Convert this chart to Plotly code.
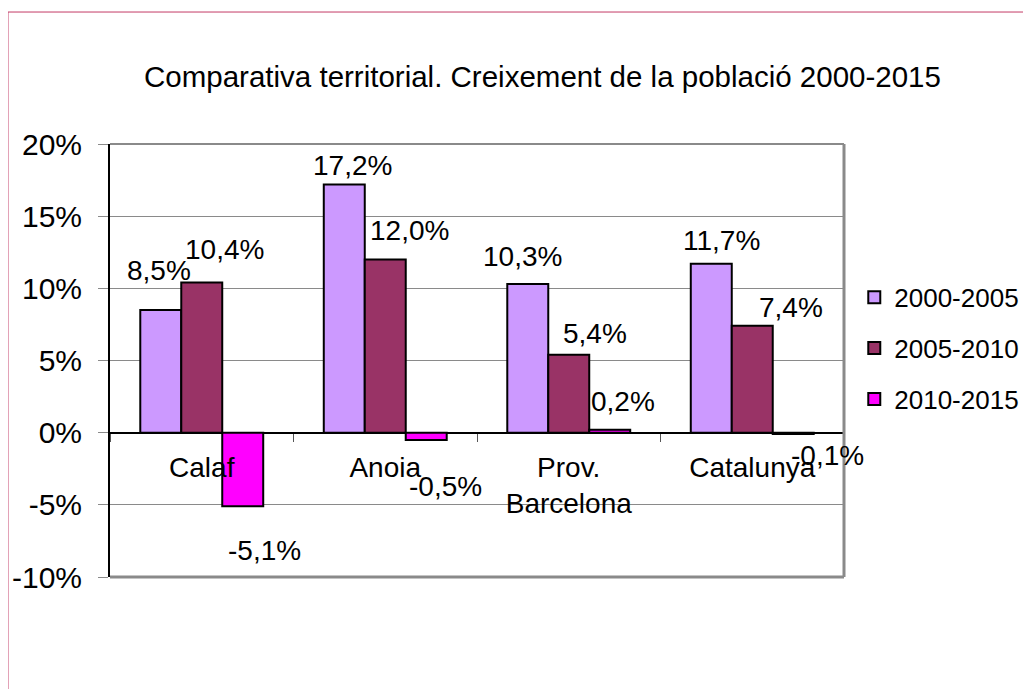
import plotly.graph_objects as go

# ---- data ----
categories = ["Calaf", "Anoia", "Prov.<br>Barcelona", "Catalunya"]
series_names = ["2000-2005", "2005-2010", "2010-2015"]
s2000_2005 = [8.5, 17.2, 10.3, 11.7]
s2005_2010 = [10.4, 12.0, 5.4, 7.4]
s2010_2015 = [-5.1, -0.5, 0.2, -0.1]
y_ticks = [-10, -5, 0, 5, 10, 15, 20]
y_tick_labels = ["-10%", "-5%", "0%", "5%", "10%", "15%", "20%"]
title_text = "Comparativa territorial. Creixement de la població 2000-2015"

# ---- styles ----
colors = ["#CC99FF", "#993366", "#FF00FF"]
FONT = "Liberation Sans, Arial, Helvetica, sans-serif"
BARGAP = 0.33
# per-label pixel nudges (series x category), mimicking the original label placement
label_dx = [[-2, 8, -5, 10], [23, 24, 26, 39], [22, 19, 13, 34]]
label_dy = [[-39, -19, -28, -23], [-33, -29, -21, -18], [44, 47, -28, 21]]

series_values = [s2000_2005, s2005_2010, s2010_2015]

fig = go.Figure()
for s, (name, vals) in enumerate(zip(series_names, series_values)):
    fig.add_trace(go.Bar(
        x=categories, y=vals, name=name, legendgroup=name,
        marker=dict(color=colors[s], line=dict(color="black", width=2)),
        hoverinfo="skip",
    ))

bar_w = (1 - BARGAP) / 3
annotations = []
for s, vals in enumerate(series_values):
    for i, v in enumerate(vals):
        annotations.append(dict(
            x=i + (s - 1) * bar_w, y=v, xref="x", yref="y",
            text=f"{v:.1f}".replace(".", ",") + "%",
            showarrow=False, xanchor="center", yanchor="middle",
            xshift=label_dx[s][i], yshift=-label_dy[s][i],
            font=dict(family=FONT, size=28, color="black"),
        ))

annotations.append(dict(
    x=0.589, y=1.157, xref="paper", yref="paper", text=title_text,
    showarrow=False, xanchor="center", yanchor="middle",
    font=dict(family=FONT, size=29.5, color="black"),
))

shapes = [
    # outer border
    dict(type="rect", xref="paper", yref="paper", x0=-0.139, x1=1.4, y0=-0.4, y1=1.3048,
         line=dict(color="#C43A66", width=1), fillcolor="rgba(0,0,0,0)", layer="below"),
    # plot area frame (top, right, bottom)
    dict(type="line", xref="paper", yref="paper", x0=0, x1=1, y0=1, y1=1,
         line=dict(color="#8a8a8a", width=2)),
    dict(type="line", xref="paper", yref="paper", x0=1, x1=1, y0=0, y1=1,
         line=dict(color="#8a8a8a", width=3)),
    dict(type="line", xref="paper", yref="paper", x0=0, x1=1, y0=0, y1=0,
         line=dict(color="#8a8a8a", width=3)),
]

fig.update_layout(
    width=1023, height=681,
    margin=dict(l=102, r=187, t=136, b=112, autoexpand=False),
    paper_bgcolor="white", plot_bgcolor="white",
    barmode="group", bargap=BARGAP, bargroupgap=0,
    font=dict(family=FONT, color="black", size=28),
    showlegend=True,
    legend=dict(x=1.014, y=0.70, xanchor="left", yanchor="top",
                font=dict(family=FONT, size=26, color="black"),
                traceorder="grouped", tracegroupgap=14,
                bgcolor="rgba(0,0,0,0)", itemclick=False),
    annotations=annotations,
    shapes=shapes,
    xaxis=dict(type="category", anchor="free", position=1/3,
               range=[-0.5, len(categories) - 0.5], autorange=False,
               showline=False, showgrid=False, zeroline=False,
               ticks="outside", tickson="boundaries", ticklen=8,
               tickcolor="#555555", tickwidth=1,
               tickfont=dict(family=FONT, size=28, color="black"),
               ticklabelstandoff=15),
    yaxis=dict(range=[-10, 20], autorange=False, tickvals=y_ticks, ticktext=y_tick_labels,
               showgrid=True, gridcolor="#8a8a8a", gridwidth=1,
               zeroline=True, zerolinecolor="black", zerolinewidth=1.5,
               showline=True, linecolor="black", linewidth=2,
               ticks="outside", ticklen=10, tickcolor="#8a8a8a",
               tickfont=dict(family=FONT, size=30, color="black"),
               ticklabelstandoff=10),
)

fig.write_html("out.html")
